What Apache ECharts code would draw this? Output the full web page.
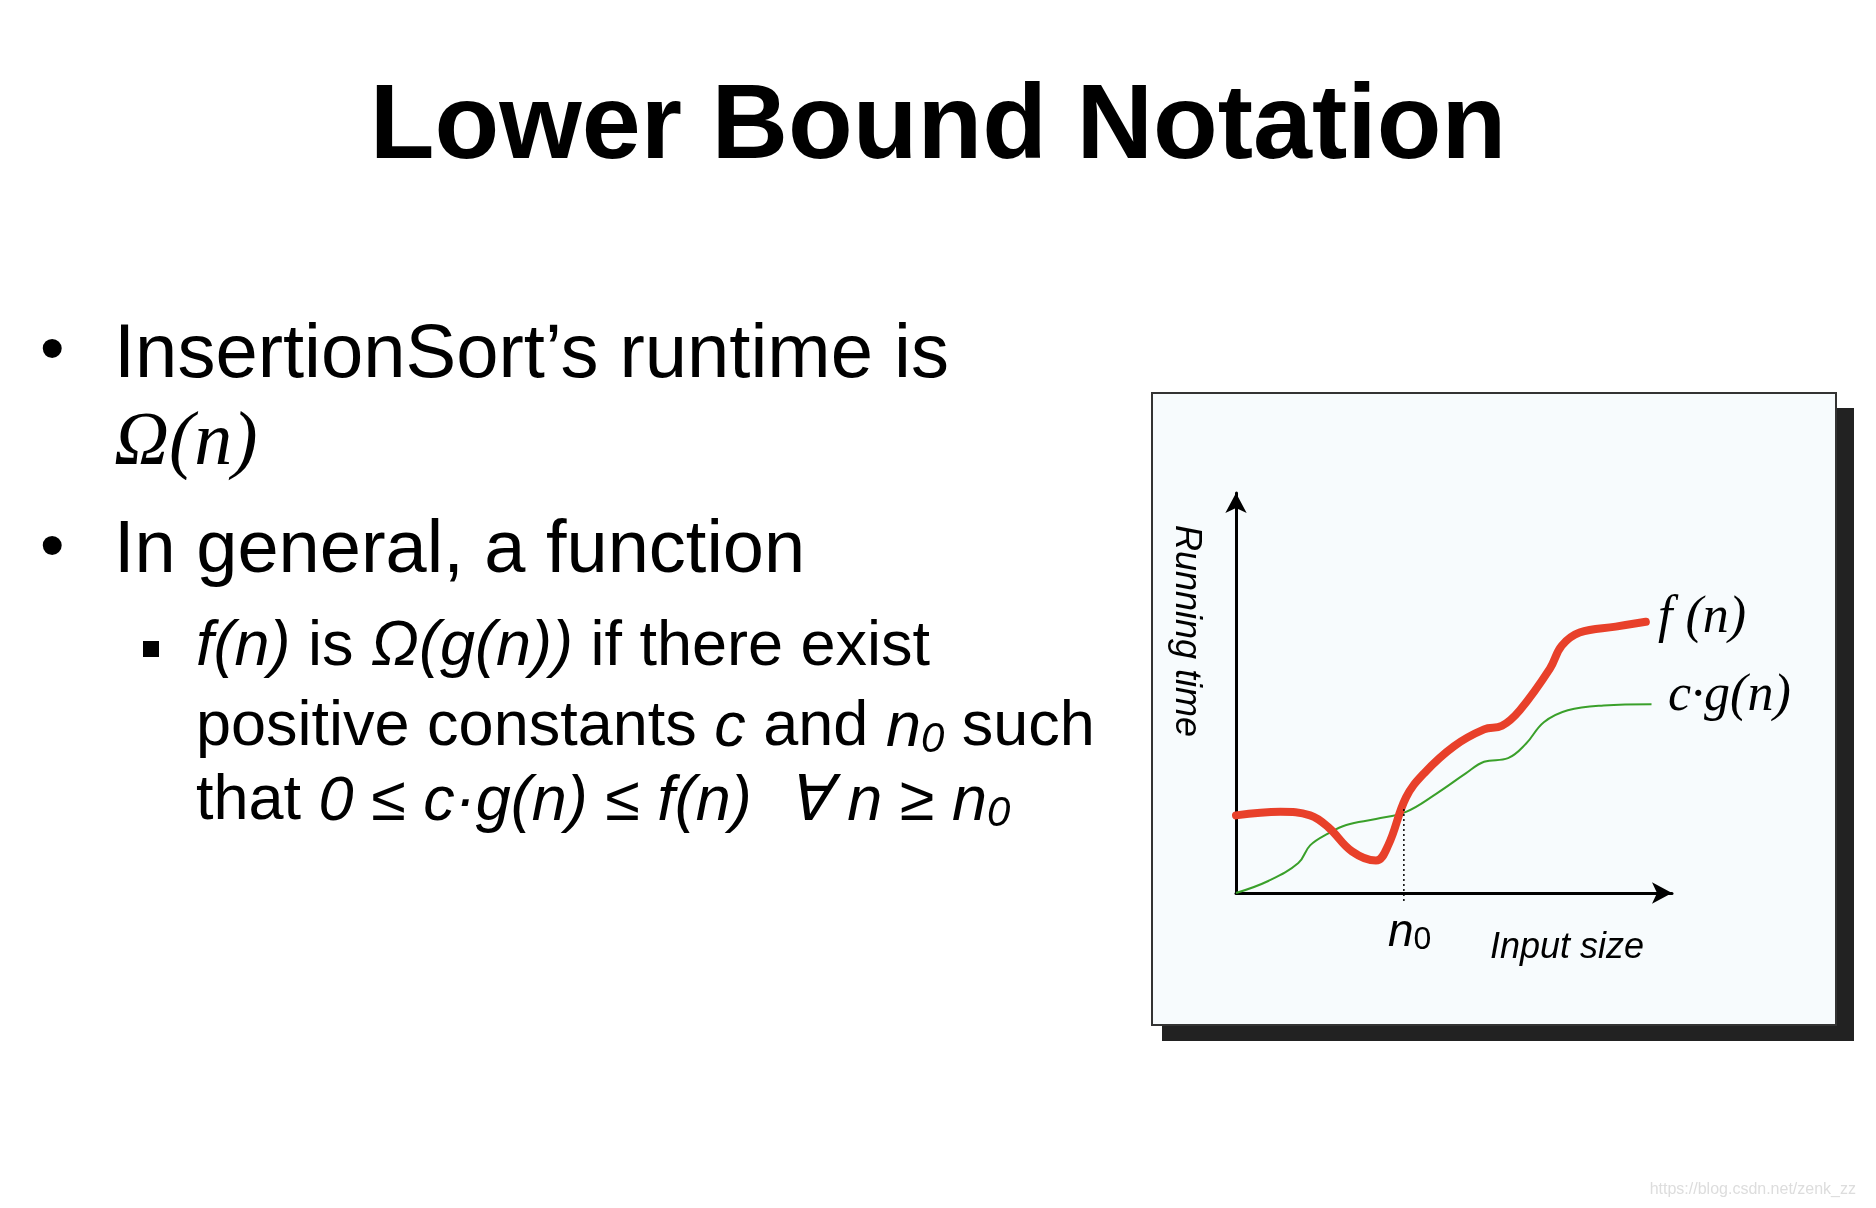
<!DOCTYPE html>
<html><head><meta charset="utf-8">
<script src="https://cdn.jsdelivr.net/npm/echarts@6/dist/echarts.min.js"></script>
<style>html,body{margin:0;background:#fff}#main{width:1876px;height:1208px}</style>
</head><body><div id="main"></div>
<script>
// curve samples, axis units 0..100
var fX = [0, 10.2, 17.0, 21.2, 26.6, 32.1, 34.9, 39.0, 43.1, 50.0, 56.9, 61.0, 65.1, 72.0, 74.7, 78.8, 87.1, 94.0];
var fY = [19.4, 20.3, 19.4, 16.4, 10.4, 8.1, 11.9, 23.9, 29.9, 36.7, 40.9, 41.8, 45.7, 56.1, 61.8, 65.1, 66.6, 67.8];
var gX = [0, 7.4, 14.3, 17.0, 21.2, 25.3, 32.1, 39.0, 45.9, 52.7, 56.9, 62.4, 66.5, 70.6, 76.1, 84.3, 95.3];
var gY = [0, 3.0, 7.5, 11.9, 14.9, 17.0, 18.5, 20.3, 24.8, 29.9, 32.8, 33.7, 37.3, 42.7, 45.7, 46.9, 47.2];
var n0X = 38.5;
var n0Y = [21.0, -2.5];

var chart = echarts.init(document.getElementById('main'));
function pairs(xs, ys) { return xs.map(function (x, i) { return [x, ys[i]]; }); }

var sans = 'Liberation Sans, Arial, sans-serif';
var serif = 'Liberation Serif, Times New Roman, serif';

chart.setOption({
    backgroundColor: '#fff',
    animation: false,
    grid: { left: 1236, top: 493, width: 436, height: 400 },
    xAxis: {
        type: 'value', min: 0, max: 100,
        axisLine: { lineStyle: { color: '#000', width: 3 }, symbol: ['none', 'arrow'], symbolSize: [16, 20] },
        axisTick: { show: false }, axisLabel: { show: false }, splitLine: { show: false }
    },
    yAxis: {
        type: 'value', min: 0, max: 100,
        axisLine: { show: true, lineStyle: { color: '#000', width: 3 }, symbol: ['none', 'arrow'], symbolSize: [16, 20] },
        axisTick: { show: false }, axisLabel: { show: false }, splitLine: { show: false }
    },
    graphic: [
        { type: 'rect', z: -10, shape: { x: 1162, y: 408, width: 692, height: 633 }, style: { fill: '#222' } },
        { type: 'rect', z: -9, shape: { x: 1152, y: 393, width: 684, height: 632 }, style: { fill: '#f7fbfd', stroke: '#333', lineWidth: 2 } },
        { type: 'text', left: 'center', top: 76, style: { text: 'Lower Bound Notation', font: 'bold 106px ' + sans, fill: '#000' } },
        { type: 'text', x: 40, y: 318, style: { text: '•', font: '70px ' + sans, fill: '#000' } },
        { type: 'text', x: 114, y: 318, style: { text: 'InsertionSort’s runtime is', font: '76px ' + sans, fill: '#000' } },
        { type: 'text', x: 114, y: 406, style: { text: 'Ω(n)', font: 'italic 76px ' + serif, fill: '#000' } },
        { type: 'text', x: 40, y: 515, style: { text: '•', font: '70px ' + sans, fill: '#000' } },
        { type: 'text', x: 114, y: 515, style: { text: 'In general, a function', font: '74px ' + sans, fill: '#000' } },
        { type: 'rect', shape: { x: 143, y: 641, width: 16, height: 16 }, style: { fill: '#000' } },
        { type: 'text', x: 196, y: 616, style: {
            text: '{i|f(n)} is {i|Ω(g(n))} if there exist', font: '63px ' + sans, fill: '#000',
            rich: { i: { font: 'italic 63px ' + sans } } } },
        { type: 'text', x: 196, y: 695, style: {
            text: 'positive constants {i|c} and {i|n}{s|0} such', font: '63px ' + sans, fill: '#000',
            rich: { i: { font: 'italic 63px ' + sans }, s: { font: 'italic 42px ' + sans, padding: [24, 0, 0, 0] } } } },
        { type: 'text', x: 196, y: 769, style: {
            text: 'that {i|0 ≤ c·g(n) ≤ f(n)  ∀ n ≥ n}{s|0}', font: '63px ' + sans, fill: '#000',
            rich: { i: { font: 'italic 63px ' + sans }, s: { font: 'italic 42px ' + sans, padding: [24, 0, 0, 0] } } } },
        { type: 'text', x: 1186, y: 631, rotation: -Math.PI / 2, style: { text: 'Running time', font: 'italic 36px ' + sans, fill: '#000', align: 'center', verticalAlign: 'middle' } },
        { type: 'text', x: 1388, y: 910, style: { text: '{i|n}{s|0}', font: '40px ' + sans, fill: '#000',
            rich: { i: { font: 'italic 46px ' + sans }, s: { font: '32px ' + sans, padding: [14, 0, 0, 0] } } } },
        { type: 'text', x: 1490, y: 930, style: { text: 'Input size', font: 'italic 36px ' + sans, fill: '#000' } },
        { type: 'text', x: 1658, y: 592, style: { text: 'f (n)', font: 'italic 52px ' + serif, fill: '#000' } },
        { type: 'text', x: 1668, y: 670, style: { text: 'c·g(n)', font: 'italic 52px ' + serif, fill: '#000' } },
        { type: 'text', right: 20, bottom: 10, style: { text: 'https://blog.csdn.net/zenk_zz', font: '16px ' + sans, fill: '#ddd' } }
    ],
    series: [
        { type: 'line', data: pairs(gX, gY), smooth: 0.4, showSymbol: false, lineStyle: { color: '#3aa02a', width: 2 } },
        { type: 'line', data: pairs(fX, fY), smooth: 0.4, showSymbol: false, lineStyle: { color: '#e8402a', width: 8, cap: 'round' } },
        { type: 'line', data: [[n0X, n0Y[0]], [n0X, n0Y[1]]], clip: false, showSymbol: false, lineStyle: { color: '#000', width: 1.5, type: [2, 3] } }
    ]
});
</script></body></html>
